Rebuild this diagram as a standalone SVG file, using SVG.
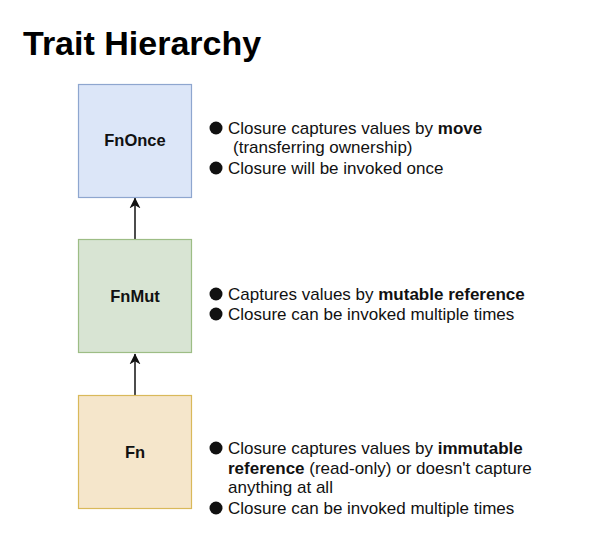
<svg xmlns="http://www.w3.org/2000/svg" width="596" height="556" viewBox="0 0 596 556">
<style>
.title{font-family:"Liberation Sans",Arial,sans-serif;font-weight:bold;font-size:34px;fill:#000}
.lbl{font-family:"Liberation Sans",Arial,sans-serif;font-weight:bold;font-size:16.5px;fill:#111;text-anchor:middle}
.desc{font-family:"Liberation Sans",Arial,sans-serif;font-size:17px;fill:#111}
.b{font-weight:bold}
.bul{fill:#111}
.conn{stroke:#111;stroke-width:1.5;fill:none}
</style>
<defs>
<marker id="arr" viewBox="0 0 10 10" refX="9.5" refY="5" markerWidth="11" markerHeight="12" markerUnits="userSpaceOnUse" orient="auto">
<path d="M0,0 L10,5 L0,10 L3,5 Z" fill="#111"/>
</marker>
</defs>
<rect width="596" height="556" fill="#fff"/>
<text class="title" x="23" y="55">Trait Hierarchy</text>
<g id="connectors">
<line class="conn" x1="135" y1="239" x2="135" y2="198" marker-end="url(#arr)"/>
<line class="conn" x1="135" y1="395" x2="135" y2="354" marker-end="url(#arr)"/>
</g>
<g id="fnonce">
<rect x="78.5" y="84.5" width="113" height="113" fill="#dce6f8" stroke="#8ea6cf" stroke-width="1.2"/>
<text class="lbl" x="135" y="146">FnOnce</text>
</g>
<g id="fnmut">
<rect x="78.5" y="239.5" width="113" height="113" fill="#d8e4d3" stroke="#9dbd85" stroke-width="1.2"/>
<text class="lbl" x="135" y="302">FnMut</text>
</g>
<g id="fn">
<rect x="78.5" y="395.5" width="113" height="113" fill="#f5e6cb" stroke="#d9b95a" stroke-width="1.2"/>
<text class="lbl" x="135" y="458">Fn</text>
</g>
<g id="fnonce-desc">
<circle class="bul" cx="216" cy="128" r="6.5"/>
<text class="desc" x="228" y="134">Closure captures values by <tspan class="b">move</tspan></text>
<text class="desc" x="233" y="153">(transferring ownership)</text>
<circle class="bul" cx="216" cy="168" r="6.5"/>
<text class="desc" x="228" y="174">Closure will be invoked once</text>
</g>
<g id="fnmut-desc">
<circle class="bul" cx="216" cy="294" r="6.5"/>
<text class="desc" x="228" y="300">Captures values by <tspan class="b">mutable reference</tspan></text>
<circle class="bul" cx="216" cy="314" r="6.5"/>
<text class="desc" x="228" y="320">Closure can be invoked multiple times</text>
</g>
<g id="fn-desc">
<circle class="bul" cx="216" cy="448" r="6.5"/>
<text class="desc" x="228" y="454">Closure captures values by <tspan class="b">immutable</tspan></text>
<text class="desc" x="228" y="474"><tspan class="b">reference</tspan> (read-only) or doesn't capture</text>
<text class="desc" x="228" y="493">anything at all</text>
<circle class="bul" cx="216" cy="508" r="6.5"/>
<text class="desc" x="228" y="514">Closure can be invoked multiple times</text>
</g>
</svg>
